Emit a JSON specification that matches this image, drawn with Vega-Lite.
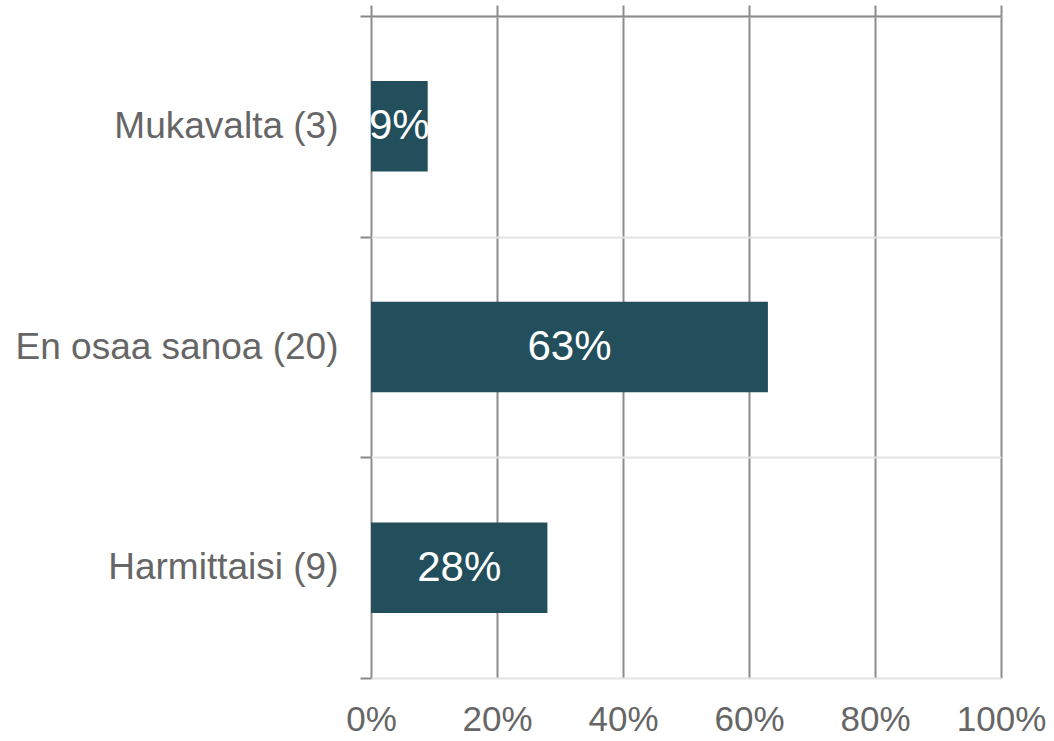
{
  "$schema": "https://vega.github.io/schema/vega-lite/v6.json",
  "autosize": {"type": "none"},
  "padding": {"left": 371, "top": 16, "right": 53, "bottom": 63},
  "width": 630,
  "height": 662,
  "background": "white",
  "config": {"view": {"stroke": null}, "font": "Liberation Sans"},
  "data": {"values": [
    {"label": "Mukavalta (3)", "pct": 0.09, "text": "9%"},
    {"label": "En osaa sanoa (20)", "pct": 0.63, "text": "63%"},
    {"label": "Harmittaisi (9)", "pct": 0.28, "text": "28%"}
  ]},
  "transform": [{"calculate": "datum.pct / 2", "as": "mid"}],
  "encoding": {
    "y": {
      "field": "label", "type": "nominal",
      "sort": ["Mukavalta (3)", "En osaa sanoa (20)", "Harmittaisi (9)"],
      "scale": {"paddingInner": 0, "paddingOuter": 0},
      "axis": {
        "title": null, "domain": false, "tickBand": "extent",
        "ticks": true, "tickSize": 11, "tickColor": "#888888", "tickWidth": 2,
        "grid": true, "gridColor": "#e3e3e3", "gridWidth": 2,
        "labelFontSize": 37, "labelColor": "#666666", "labelPadding": 22,
        "labelFont": "Liberation Sans", "labelLimit": 400
      }
    }
  },
  "layer": [
    {
      "mark": {"type": "bar", "color": "#234e5c", "height": {"band": 0.41}},
      "encoding": {
        "x": {
          "field": "pct", "type": "quantitative",
          "scale": {"domain": [0, 1], "nice": false},
          "axis": {
            "orient": "bottom", "title": null, "format": ".0%",
            "values": [0, 0.2, 0.4, 0.6, 0.8, 1],
            "domain": false, "ticks": false,
            "grid": true, "gridColor": "#8c8c8c", "gridWidth": 2,
            "labelFontSize": 35, "labelColor": "#666666", "labelPadding": 24,
            "labelFont": "Liberation Sans", "labelFlush": false
          }
        }
      }
    },
    {
      "mark": {"type": "text", "color": "white", "fontSize": 42, "font": "Liberation Sans", "align": "center", "baseline": "middle"},
      "encoding": {
        "x": {
          "field": "mid", "type": "quantitative",
          "axis": {
            "orient": "top", "title": null, "labels": false,
            "values": [0, 0.2, 0.4, 0.6, 0.8, 1],
            "domain": true, "domainColor": "#8c8c8c", "domainWidth": 2,
            "ticks": true, "tickSize": 11, "tickColor": "#8c8c8c", "tickWidth": 2,
            "grid": false, "zindex": 1
          }
        },
        "text": {"field": "text"}
      }
    }
  ],
  "resolve": {"axis": {"x": "independent"}}
}
